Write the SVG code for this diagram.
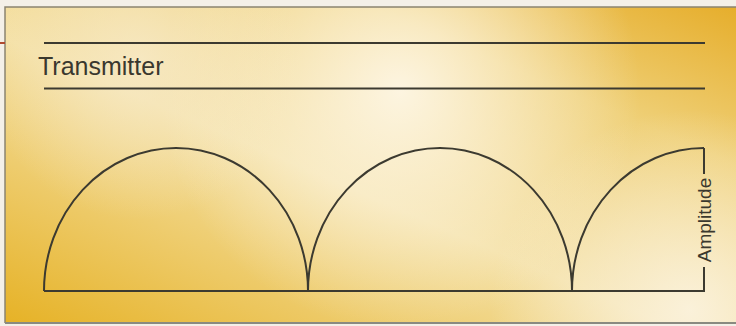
<svg xmlns="http://www.w3.org/2000/svg" width="736" height="326" viewBox="0 0 736 326">
<defs>
<linearGradient id="base" x1="0" y1="1" x2="1" y2="0">
<stop offset="0" stop-color="#e6b226"/>
<stop offset="0.45" stop-color="#f4e0a4"/>
<stop offset="0.75" stop-color="#efd078"/>
<stop offset="1" stop-color="#e6ae2c"/>
</linearGradient>
<radialGradient id="glow1" cx="400" cy="90" r="240" gradientUnits="userSpaceOnUse">
<stop offset="0" stop-color="#fffaf0" stop-opacity="0.85"/>
<stop offset="1" stop-color="#fffaf0" stop-opacity="0"/>
</radialGradient>
<radialGradient id="glow2" cx="690" cy="310" r="200" gradientUnits="userSpaceOnUse">
<stop offset="0" stop-color="#fbf3e0" stop-opacity="0.9"/>
<stop offset="1" stop-color="#fbf3e0" stop-opacity="0"/>
</radialGradient>
<radialGradient id="glow3" cx="140" cy="60" r="160" gradientUnits="userSpaceOnUse">
<stop offset="0" stop-color="#f8ecd0" stop-opacity="0.7"/>
<stop offset="1" stop-color="#f8ecd0" stop-opacity="0"/>
</radialGradient>
</defs>
<style>
.ln{fill:none;stroke:#3c3a30;stroke-width:2}
.lbl{font-family:"Liberation Sans",Arial,sans-serif;fill:#3a382e}
</style>
<rect x="0" y="0" width="736" height="326" fill="#f4f0e8"/>
<g id="panel">
<rect x="5" y="7" width="731" height="316" fill="url(#base)"/>
<rect x="5" y="7" width="731" height="316" fill="url(#glow1)"/>
<rect x="5" y="7" width="731" height="316" fill="url(#glow2)"/>
<rect x="5" y="7" width="731" height="316" fill="url(#glow3)"/>
<path d="M5,323 V7 H736" fill="none" stroke="#8a8470" stroke-width="1.5"/>
<path d="M5,323 H736" fill="none" stroke="#8a8a80" stroke-width="2"/>
<line x1="0" y1="43" x2="5" y2="43" stroke="#b04a30" stroke-width="2"/>
</g>
<g id="transmitter">
<line class="ln" x1="44" y1="43" x2="705" y2="43"/>
<line class="ln" x1="44" y1="88.5" x2="705" y2="88.5"/>
<text class="lbl" x="38" y="75" font-size="25">Transmitter</text>
</g>
<g id="connectors">
<path class="ln" d="M44,291 A132,143 0 0 1 308,291 A132,143 0 0 1 572,291 A132,143 0 0 1 704,148"/>
<path class="ln" d="M44,291 H704 V267"/>
<path class="ln" d="M704,148 V174"/>
</g>
<g id="amplitude">
<text class="lbl" x="0" y="0" font-size="19" text-anchor="middle" transform="translate(710.5,220) rotate(-90)">Amplitude</text>
</g>
</svg>
